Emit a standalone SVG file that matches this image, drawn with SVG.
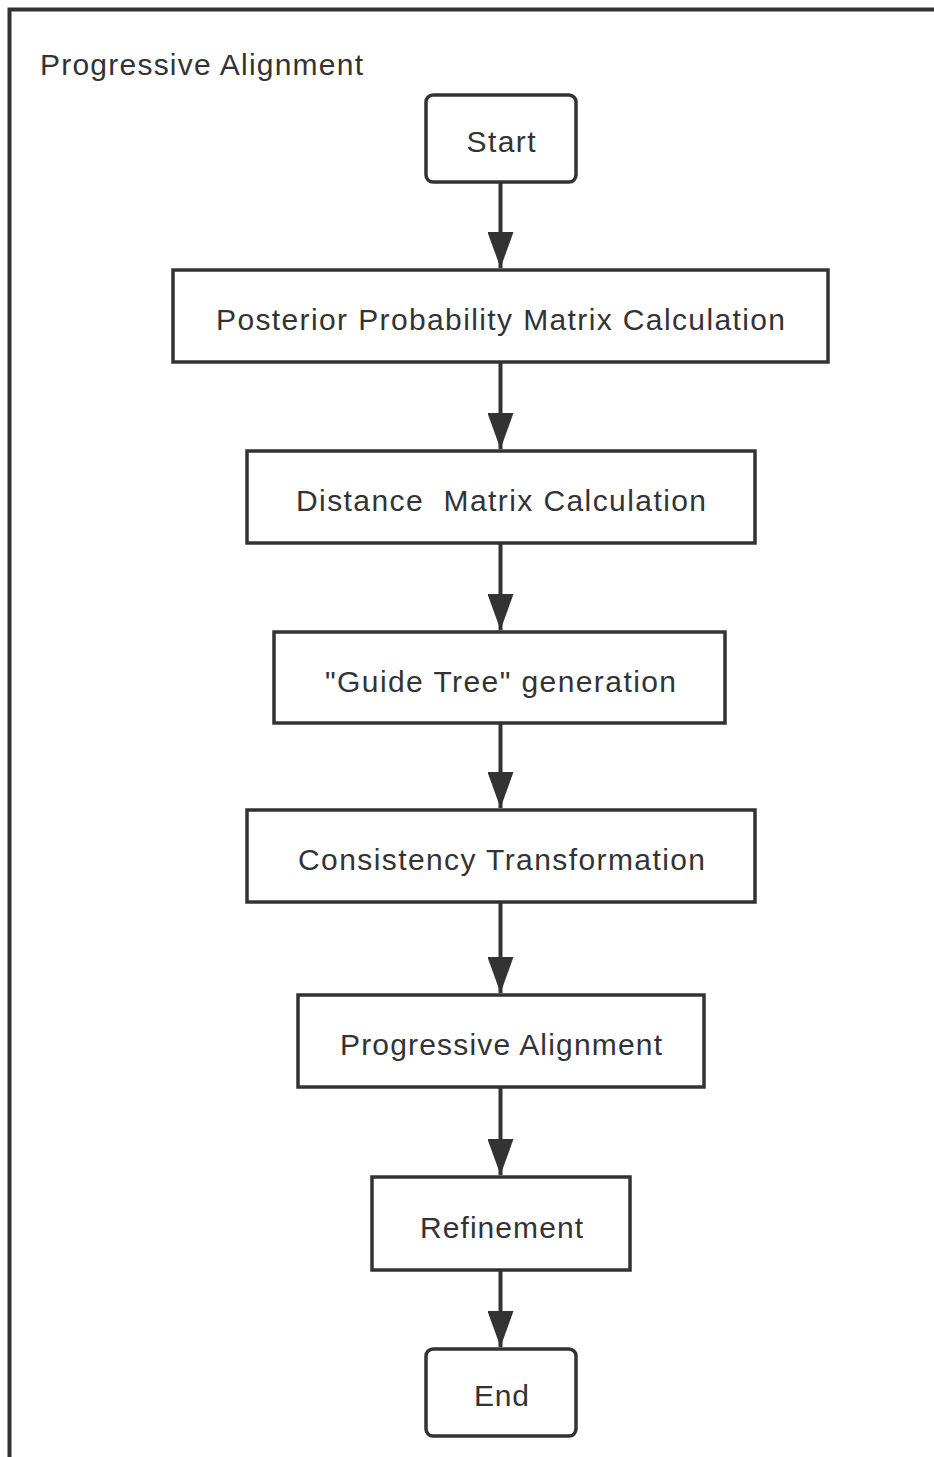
<svg xmlns="http://www.w3.org/2000/svg" width="934" height="1457" viewBox="0 0 934 1457">
<style>
.box{fill:#fff;stroke:#333;stroke-width:3.5}
.t{font-family:"Liberation Sans",Arial,sans-serif;font-size:30px;fill:#333;text-anchor:middle}
.c{stroke:#333;stroke-width:4;fill:none}
</style>
<defs>
<marker id="ah" markerUnits="userSpaceOnUse" markerWidth="38" markerHeight="26" refX="36" refY="13" viewBox="0 0 38 26" orient="auto">
<path d="M0,0 L36,13 L0,26 Z" fill="#333"/>
</marker>
</defs>
<rect width="934" height="1457" fill="#fff"/>
<g id="frame">
<path d="M9.5,1457 V9.5 H934" fill="none" stroke="#333" stroke-width="4"/>
<text x="40" y="75" style="font-family:'Liberation Sans',Arial,sans-serif;font-size:30px;fill:#333" textLength="323">Progressive Alignment</text>
</g>
<g id="connectors">
<line class="c" x1="500.5" y1="182" x2="500.5" y2="268" marker-end="url(#ah)"/>
<line class="c" x1="500.5" y1="362" x2="500.5" y2="449" marker-end="url(#ah)"/>
<line class="c" x1="500.5" y1="543" x2="500.5" y2="630" marker-end="url(#ah)"/>
<line class="c" x1="500.5" y1="723" x2="500.5" y2="808" marker-end="url(#ah)"/>
<line class="c" x1="500.5" y1="902" x2="500.5" y2="993" marker-end="url(#ah)"/>
<line class="c" x1="500.5" y1="1087" x2="500.5" y2="1175" marker-end="url(#ah)"/>
<line class="c" x1="500.5" y1="1270" x2="500.5" y2="1347" marker-end="url(#ah)"/>
</g>
<g id="start">
<rect class="box" x="426" y="95" width="150" height="87" rx="7"/>
<text class="t" x="501" y="152" textLength="69">Start</text>
</g>
<g id="posterior">
<rect class="box" x="173" y="270" width="655" height="92"/>
<text class="t" x="500.5" y="330" textLength="569">Posterior Probability Matrix Calculation</text>
</g>
<g id="distance">
<rect class="box" x="247" y="451" width="508" height="92"/>
<text class="t" x="501" y="511" textLength="410" xml:space="preserve">Distance  Matrix Calculation</text>
</g>
<g id="guidetree">
<rect class="box" x="274" y="632" width="451" height="91"/>
<text class="t" x="500.5" y="692" textLength="351">"Guide Tree" generation</text>
</g>
<g id="consistency">
<rect class="box" x="247" y="810" width="508" height="92"/>
<text class="t" x="501.5" y="870" textLength="407">Consistency Transformation</text>
</g>
<g id="progressive">
<rect class="box" x="298" y="995" width="406" height="92"/>
<text class="t" x="501" y="1055" textLength="322">Progressive Alignment</text>
</g>
<g id="refinement">
<rect class="box" x="372" y="1177" width="258" height="93"/>
<text class="t" x="501.5" y="1238" textLength="163">Refinement</text>
</g>
<g id="end">
<rect class="box" x="426" y="1349" width="150" height="87" rx="7"/>
<text class="t" x="501.5" y="1406" textLength="55">End</text>
</g>
</svg>
